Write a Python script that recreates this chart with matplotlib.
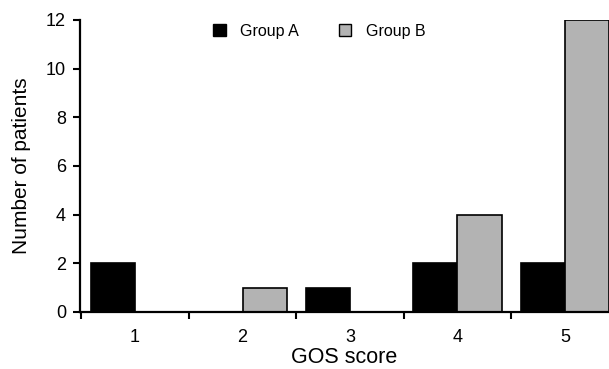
import numpy as np
import matplotlib
matplotlib.use("Agg")
import matplotlib.pyplot as plt
from matplotlib.patches import Patch

plt.rcParams['font.family'] = ['Liberation Sans', 'DejaVu Sans']

# Data
scores = ['1', '2', '3', '4', '5']
group_a = [2, 0, 1, 2, 2]
group_b = [0, 1, 0, 4, 12]
colors_list = ["#000000", "#b3b3b3"]

fig = plt.figure(figsize=(6.09, 3.69), dpi=100)
ax = fig.add_axes([80 / 609, 1 - 312 / 369, 1 - 80 / 609, (312 - 20) / 369])

x = np.arange(len(scores))
width = 0.41
ax.bar(x - width / 2, group_a, width, color=colors_list[0], edgecolor="black", linewidth=1.2)
ax.bar(x + width / 2, group_b, width, color=colors_list[1], edgecolor="black", linewidth=1.2)

ax.set_xlim(-0.512, 4.41)
ax.set_ylim(0, 12)
ax.set_yticks(np.arange(0, 13, 2))

# Tick marks between categories, labels at centres
ax.set_xticks(np.arange(-0.5, 4, 1))
ax.set_xticklabels([])
ax.set_xticks(x, minor=True)
ax.set_xticklabels(scores, minor=True)
ax.tick_params(axis="x", which="minor", length=0, pad=12, labelsize=13)
ax.tick_params(axis="x", which="major", direction="out", length=5, width=1.5)
ax.tick_params(axis="y", direction="out", length=5, width=1.5, labelsize=13, pad=5)

for side in ["top", "right"]:
    ax.spines[side].set_visible(False)
for side in ["left", "bottom"]:
    ax.spines[side].set_linewidth(1.6)
    ax.spines[side].set_clip_on(False)

ax.set_xlabel("GOS score", fontsize=15.5, labelpad=1)
ax.set_ylabel("Number of patients", fontsize=15, labelpad=11)

legend_elements = [
    Patch(facecolor=colors_list[0], edgecolor="black", label="Group A"),
    Patch(facecolor=colors_list[1], edgecolor="black", label="Group B"),
]
ax.legend(handles=legend_elements, loc="center", bbox_to_anchor=(0.452, 0.962), ncol=2,
          frameon=False, fontsize=11.5, handlelength=0.8, handleheight=0.8,
          handletextpad=0.9, columnspacing=2.5)

fig.savefig("out.png", dpi=100)
